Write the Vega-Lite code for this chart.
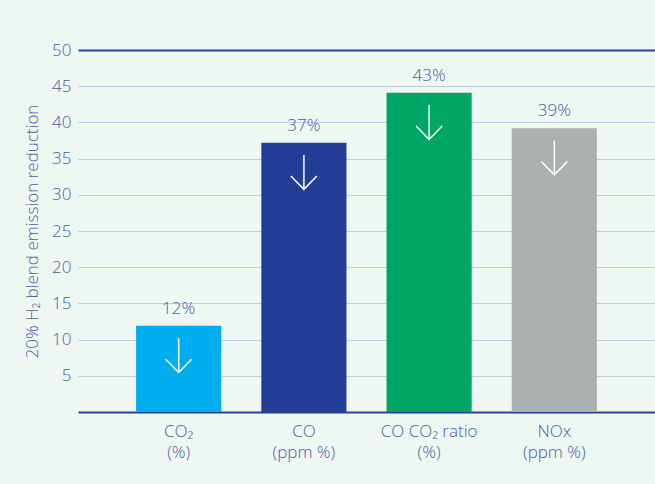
{
  "$schema": "https://vega.github.io/schema/vega-lite/v6.json",
  "width": 577,
  "height": 362,
  "autosize": {"type": "none"},
  "padding": {"left": 78, "top": 50, "right": 0, "bottom": 72},
  "background": "#eef7f2",
  "config": {"view": {"stroke": null}, "font": "Open Sans"},
  "data": {
    "values": [
      {"name": "CO₂|(%)", "value": 11.9, "label": "12%"},
      {"name": "CO|(ppm %)", "value": 37.2, "label": "37%"},
      {"name": "CO CO₂ ratio|(%)", "value": 44.1, "label": "43%"},
      {"name": "NOx|(ppm %)", "value": 39.2, "label": "39%"}
    ]
  },
  "encoding": {
    "x": {
      "field": "name",
      "type": "nominal",
      "sort": null,
      "scale": {"paddingInner": 0.32, "paddingOuter": 0.464},
      "axis": {
        "title": null,
        "labelAngle": 0,
        "labelExpr": "split(datum.label, '|')",
        "ticks": false,
        "domainColor": "#2b3f98",
        "domainWidth": 2,
        "labelFont": "Open Sans",
        "labelFontSize": 17,
        "labelFontWeight": 300,
        "labelColor": "#4b5cab",
        "labelLineHeight": 21,
        "labelPadding": 11,
        "labelBaseline": "top"
      }
    },
    "y": {
      "field": "value",
      "type": "quantitative",
      "scale": {"domain": [0, 50], "nice": false},
      "axis": {
        "values": [5, 10, 15, 20, 25, 30, 35, 40, 45, 50],
        "title": "20% H₂ blend emission reduction",
        "domain": false,
        "ticks": false,
        "labelPadding": 7,
        "labelFont": "Open Sans",
        "labelFontSize": 17,
        "labelFontWeight": 300,
        "labelColor": "#4b5cab",
        "titleFont": "Open Sans",
        "titleFontSize": 17,
        "titleFontWeight": 300,
        "titleColor": "#4b5cab",
        "titlePadding": 10,
        "gridColor": {"condition": {"test": "datum.value === 50", "value": "#2b3f98"}, "value": "#c3c9e4"},
        "gridWidth": {"condition": {"test": "datum.value === 50", "value": 2}, "value": 1}
      }
    }
  },
  "layer": [
    {
      "mark": {"type": "bar"},
      "encoding": {
        "color": {
          "field": "name",
          "type": "nominal",
          "scale": {
            "domain": ["CO₂|(%)", "CO|(ppm %)", "CO CO₂ ratio|(%)", "NOx|(ppm %)"],
            "range": ["#00aeef", "#233e97", "#00a665", "#adb0b1"]
          },
          "legend": null
        }
      }
    },
    {
      "mark": {"type": "text", "dy": -12, "baseline": "alphabetic", "font": "Open Sans", "fontSize": 17, "fontWeight": 300, "color": "#4b5cab"},
      "encoding": {"text": {"field": "label"}}
    },
    {
      "mark": {
        "type": "point",
        "shape": "M0,-1L0,1M-0.756,0.225L0,1L0.756,0.225",
        "filled": false,
        "stroke": "white",
        "strokeWidth": 1.5,
        "size": 1183,
        "opacity": 1,
        "yOffset": 29.5
      },
      "encoding": {}
    }
  ]
}
